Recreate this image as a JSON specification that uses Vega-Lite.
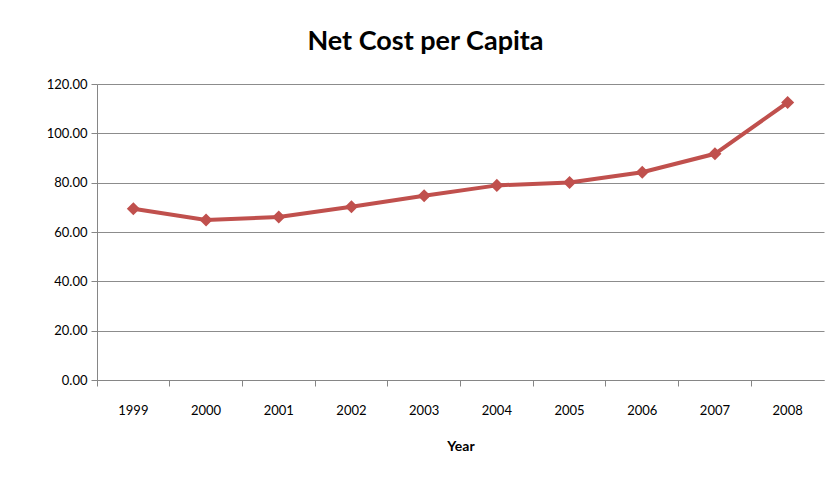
{
  "$schema": "https://vega.github.io/schema/vega-lite/v6.json",
  "width": 727,
  "height": 296,
  "autosize": "none",
  "padding": {"left": 97, "top": 84, "right": 10, "bottom": 100},
  "background": "white",
  "title": {
    "text": "Net Cost per Capita",
    "font": "Lato",
    "fontSize": 27,
    "fontWeight": "bold",
    "color": "#000000",
    "anchor": "middle",
    "dx": -35,
    "offset": 22
  },
  "config": {
    "view": {"stroke": null},
    "axis": {"labelFont": "Lato", "titleFont": "Lato", "labelColor": "#000000", "titleColor": "#000000"}
  },
  "data": {
    "values": [
      {"Year": "1999", "Cost": 69.4},
      {"Year": "2000", "Cost": 64.9},
      {"Year": "2001", "Cost": 66.1},
      {"Year": "2002", "Cost": 70.2},
      {"Year": "2003", "Cost": 74.7},
      {"Year": "2004", "Cost": 78.9},
      {"Year": "2005", "Cost": 80.1},
      {"Year": "2006", "Cost": 84.2},
      {"Year": "2007", "Cost": 91.7},
      {"Year": "2008", "Cost": 112.5}
    ]
  },
  "encoding": {
    "x": {
      "field": "Year", "type": "ordinal",
      "scale": {"type": "band", "paddingInner": 0, "paddingOuter": 0},
      "axis": {
        "title": "Year", "titleFontSize": 14, "titleFontWeight": "bold", "titlePadding": 22,
        "labelAngle": 0, "labelFontSize": 13, "labelPadding": 18,
        "bandPosition": 0, "labelOffset": 0,
        "domainColor": "#868686", "tickColor": "#868686", "tickSize": 6, "grid": false
      }
    },
    "y": {
      "field": "Cost", "type": "quantitative",
      "scale": {"domain": [0, 120], "nice": false},
      "axis": {
        "title": null, "format": ".2f", "values": [0, 20, 40, 60, 80, 100, 120],
        "labelFontSize": 13, "labelPadding": 4,
        "domainColor": "#868686", "tickColor": "#868686", "tickSize": 6,
        "gridColor": "#8c8c8c", "gridWidth": 1
      }
    }
  },
  "layer": [
    {"mark": {"type": "line", "color": "#C0504D", "strokeWidth": 4}},
    {"mark": {"type": "point", "shape": "diamond", "filled": true, "color": "#C0504D", "size": 170, "opacity": 1}}
  ]
}
